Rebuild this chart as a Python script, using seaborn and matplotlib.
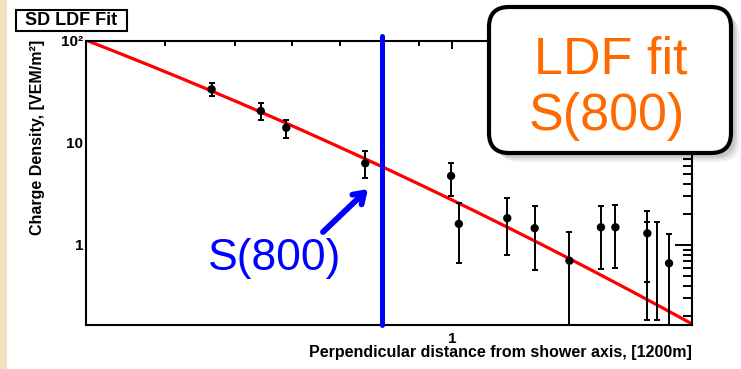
import numpy as np
import pandas as pd
import matplotlib
matplotlib.use("Agg")
import matplotlib.pyplot as plt
import seaborn as sns
from matplotlib.patches import FancyBboxPatch, Rectangle
from matplotlib.ticker import FixedLocator, FixedFormatter, NullFormatter

sns.set_theme(style="white")
plt.rcParams["font.family"] = ["Liberation Sans", "DejaVu Sans"]

# Station signals: distance in units of 1200 m, density in VEM/m^2
distance = [0.464, 0.543, 0.589, 0.758, 0.997, 1.022, 1.193, 1.302, 1.455, 1.609, 1.685, 1.866, 2.00]
density = [33.6, 20.6, 14.1, 6.32, 4.75, 1.61, 1.83, 1.46, 0.70, 1.49, 1.49, 1.30, 0.661]
dens_low = [28.9, 16.8, 11.1, 4.5, 3.02, 0.67, 0.80, 0.57, 0.05, 0.58, 0.60, 0.43, 0.05]
dens_high = [39.0, 24.5, 16.8, 8.4, 6.41, 2.58, 2.87, 2.43, 1.35, 2.43, 2.47, 2.15, 1.27]

# Stations shown only by their uncertainty range
range_x = [1.862, 1.926]
range_low = [0.184, 0.184]
range_high = [1.69, 1.69]

# LDF fit: log10 S = c0 + c1*log10(r) + c2*log10(r)^2
ldf_coeffs = [0.441, -3.428, -0.671]
s800_distance = 0.8

x_limits = (0.3107, 2.152)
y_limits = (0.164, 100)
x_major = [1]
x_major_labels = ["1"]
x_minor = [0.4, 0.5, 0.6, 0.7, 0.8, 0.9, 2]
y_major = [1, 10, 100]
y_major_labels = ["1", "10", "10²"]
y_minor = [0.2, 0.3, 0.4, 0.5, 0.6, 0.7, 0.8, 0.9,
           2, 3, 4, 5, 6, 7, 8, 9, 20, 30, 40, 50, 60, 70, 80, 90]

W, H = 741, 369
fig = plt.figure(figsize=(W / 100, H / 100), dpi=100)
fig.patch.set_facecolor("white")
ax = fig.add_axes([86 / W, 1 - 325 / H, (692 - 86) / W, (325 - 41) / H])
ax.set_facecolor("white")

# slide margin strip on the left
fig.add_artist(Rectangle((0, 0), 7 / W, 1, transform=fig.transFigure,
                         facecolor="#EEE3BD", edgecolor="none", zorder=0))

points = pd.DataFrame({"distance": distance, "density": density,
                       "low": dens_low, "high": dens_high})

# fitted lateral distribution
r = np.geomspace(x_limits[0], x_limits[1], 300)
lr = np.log10(r)
fit = pd.DataFrame({"r": r, "S": 10 ** (ldf_coeffs[0] + ldf_coeffs[1] * lr + ldf_coeffs[2] * lr ** 2)})
sns.lineplot(data=fit, x="r", y="S", ax=ax, color="#FF0000", linewidth=2.3, zorder=2)

# uncertainties
ax.errorbar(points["distance"], points["density"],
            yerr=[points["density"] - points["low"], points["high"] - points["density"]],
            fmt="none", ecolor="black", elinewidth=1.4, capsize=2.5, capthick=1.4, zorder=3)
rx = np.array(range_x)
rlo = np.array(range_low)
rhi = np.array(range_high)
ax.errorbar(rx, rlo, yerr=[np.zeros_like(rlo), rhi - rlo], fmt="none", ecolor="black",
            elinewidth=1.4, capsize=2.5, capthick=1.4, zorder=3)
sns.scatterplot(data=points, x="distance", y="density", ax=ax, color="black",
                s=36, edgecolor="none", zorder=4)

ax.set_xscale("log")
ax.set_yscale("log")
ax.set_xlim(*x_limits)
ax.set_ylim(*y_limits)
ax.set_xlabel("")
ax.set_ylabel("")

ax.xaxis.set_major_locator(FixedLocator(x_major))
ax.xaxis.set_major_formatter(FixedFormatter(x_major_labels))
ax.xaxis.set_minor_locator(FixedLocator(x_minor))
ax.xaxis.set_minor_formatter(NullFormatter())
ax.yaxis.set_major_locator(FixedLocator(y_major))
ax.yaxis.set_major_formatter(FixedFormatter(y_major_labels))
ax.yaxis.set_minor_locator(FixedLocator(y_minor))
ax.yaxis.set_minor_formatter(NullFormatter())

ax.tick_params(which="both", direction="in", top=True, right=True, colors="black",
               width=1.4, labelsize=11)
ax.tick_params(axis="x", which="major", length=5.8, pad=5)
ax.tick_params(axis="x", which="minor", length=3.6)
ax.tick_params(axis="y", which="major", length=12.2, pad=2)
ax.tick_params(axis="y", which="minor", length=6.5)
for lab in ax.get_xticklabels() + ax.get_yticklabels():
    lab.set_fontweight("bold")
for sp in ax.spines.values():
    sp.set_visible(True)
    sp.set_color("black")
    sp.set_linewidth(1.5)

# S(800) reference distance
ax.axvline(s800_distance, ymin=0, ymax=(325 - 36) / (325 - 41), color="#0000FF",
           linewidth=3.6, clip_on=False, zorder=5)

# axis titles
fig.text(38 / W, 1 - 40 / H, "Charge Density, [VEM/m²]", rotation=90,
         ha="center", va="top", fontsize=11.5, fontweight="bold", color="black")
fig.text(692 / W, 1 - 352 / H, "Perpendicular distance from shower axis, [1200m]",
         ha="right", va="center", fontsize=11.5, fontweight="bold", color="black")

# plot title box
fig.add_artist(Rectangle((16 / W, 1 - 31 / H), 111 / W, 21 / H, transform=fig.transFigure,
                         facecolor="white", edgecolor="black", linewidth=1.5, zorder=6))
fig.text(71 / W, 1 - 20.5 / H, "SD LDF Fit", ha="center", va="center",
         fontsize=13, fontweight="bold", color="black", zorder=7)

# callout for S(800)
fig.text(275 / W, 1 - 270 / H, "S(800)", ha="center", va="baseline",
         fontsize=32, color="#0000FF", zorder=7)
ax.annotate("", xy=(368, H - 189), xytext=(323, H - 232),
            xycoords="figure pixels", textcoords="figure pixels",
            arrowprops=dict(arrowstyle="->,head_length=0.6,head_width=0.4",
                            color="#0000FF", lw=4.2, shrinkA=0, shrinkB=0),
            annotation_clip=False, zorder=7)

# rounded label box with soft shadow
box_x0, box_y0, box_w, box_h = 4.89, (H - 153) / 100, 2.42, 1.46
for k, a in enumerate([0.04, 0.05, 0.06, 0.08]):
    off = 0.09 - k * 0.015
    fig.add_artist(FancyBboxPatch((box_x0 + off, box_y0 - off), box_w, box_h,
                                  boxstyle="round,pad=0,rounding_size=0.2",
                                  transform=fig.dpi_scale_trans, facecolor="black",
                                  edgecolor="none", alpha=a, zorder=7))
fig.add_artist(FancyBboxPatch((box_x0, box_y0), box_w, box_h,
                              boxstyle="round,pad=0,rounding_size=0.2",
                              transform=fig.dpi_scale_trans, facecolor="white",
                              edgecolor="black", linewidth=3.0, zorder=8))
fig.text(611 / W, 1 - 73 / H, "LDF fit", ha="center", va="baseline",
         fontsize=37.5, color="#FF6A00", zorder=9)
fig.text(607 / W, 1 - 130 / H, "S(800)", ha="center", va="baseline",
         fontsize=37.5, color="#FF6A00", zorder=9)

fig.savefig("out.png", dpi=100, facecolor="white")
